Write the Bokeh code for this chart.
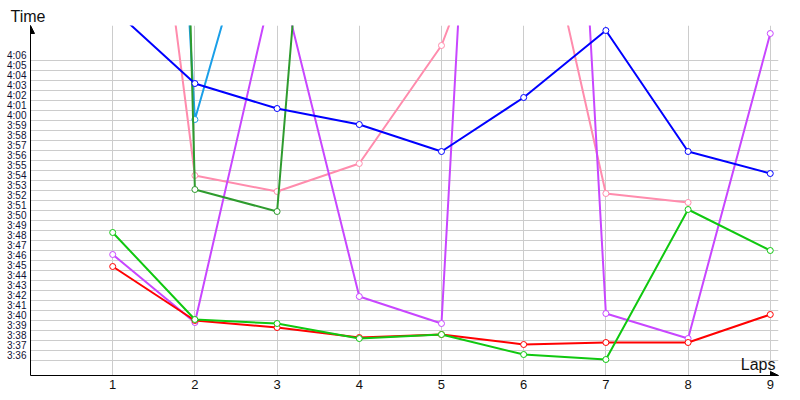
from bokeh.plotting import figure
from bokeh.models import FixedTicker, Arrow, NormalHead, Label, Range1d
from bokeh.embed import file_html
from bokeh.resources import INLINE

# ---- data (lap times in seconds) ----
laps = [1, 2, 3, 4, 5, 6, 7, 8, 9]
x_tick_labels = ["1", "2", "3", "4", "5", "6", "7", "8", "9"]

y_ticks = list(range(216, 247))  # 3:36 .. 4:06
y_tick_labels = [f"{t // 60}:{t % 60:02d}" for t in y_ticks]

pink = [298.7, 234.5, 232.9, 235.7, 247.5, 269.2, 232.7, 231.8]
purple = [226.6, 219.8, 255.5, 222.4, 219.7, 368.0, 220.7, 218.2, 248.7]
light_blue = [386.0, 240.1, 268.8]
dark_green = [546.0, 233.1, 230.9, 330.0]
blue = [251.2, 243.7, 241.2, 239.6, 236.9, 242.3, 249.0, 236.9, 234.7]
red = [225.4, 220.0, 219.3, 218.3, 218.6, 217.6, 217.8, 217.8, 220.6]
green = [228.8, 220.1, 219.7, 218.2, 218.6, 216.6, 216.1, 231.1, 227.0]

series = [
    (pink, "#FF8CAD"),
    (purple, "#C846FF"),
    (light_blue, "#1A9FE8"),
    (dark_green, "#2E9B2E"),
    (blue, "#0000FF"),
    (red, "#FF0000"),
    (green, "#10C810"),
]

x0, x1 = 0, 9.1
y0, y1 = 214.5, 249.5

p = figure(width=800, height=400, output_backend="svg", toolbar_location=None,
           x_range=Range1d(x0, x1), y_range=Range1d(y0, y1),
           min_border_left=30, min_border_right=22, min_border_top=25,
           min_border_bottom=25, title="Time")
p.outline_line_color = None
p.background_fill_color = "white"
p.border_fill_color = "white"

p.title.align = "left"
p.title.offset = -20
p.title.standoff = 2
p.title.text_font = "Liberation Sans"
p.title.text_font_size = "16px"
p.title.text_font_style = "normal"
p.title.text_color = "#111111"

# x axis
p.xaxis.ticker = FixedTicker(ticks=laps)
p.xaxis.major_label_overrides = {l: t for l, t in zip(laps, x_tick_labels)}
p.xaxis.major_tick_line_color = None
p.xaxis.major_tick_out = 0
p.xaxis.minor_tick_line_color = None
p.xaxis.axis_line_color = "black"
p.xaxis.major_label_standoff = 4
p.xaxis.major_label_text_font = "Liberation Sans"
p.xaxis.major_label_text_font_size = "13px"
p.xaxis.major_label_text_color = "#111111"

# y axis (labels sit half a second above their grid line)
p.yaxis.ticker = FixedTicker(ticks=[t + 0.5 for t in y_ticks])
p.yaxis.major_label_overrides = {t + 0.5: s for t, s in zip(y_ticks, y_tick_labels)}
p.yaxis.major_tick_line_color = None
p.yaxis.major_tick_out = 0
p.yaxis.minor_tick_line_color = None
p.yaxis.axis_line_color = "black"
p.yaxis.major_label_standoff = 4
p.yaxis.major_label_text_font = "Liberation Sans"
p.yaxis.major_label_text_font_size = "10px"
p.yaxis.major_label_text_color = "#111133"

# grids
p.xgrid.ticker = FixedTicker(ticks=laps)
p.ygrid.ticker = FixedTicker(ticks=y_ticks)
p.grid.grid_line_color = "#CCCCCC"
p.grid.grid_line_width = 1

for vals, col in series:
    xs = laps[:len(vals)]
    p.line(xs, vals, line_width=2, color=col, line_join="round")
    p.scatter(xs, vals, marker="circle", size=6, fill_color="white",
              line_color=col, line_width=1)

# axis arrows
p.add_layout(Arrow(end=NormalHead(size=8, fill_color="black", line_color="black"),
                   x_start=x0, y_start=y1 - 1.0, x_end=x0, y_end=y1,
                   line_color="black", line_width=1))
p.add_layout(Arrow(end=NormalHead(size=8, fill_color="black", line_color="black"),
                   x_start=x1 - 0.2, y_start=y0, x_end=x1, y_end=y0,
                   line_color="black", line_width=1))

p.add_layout(Label(x=9.063, y=215.6, text="Laps", text_align="right",
                   text_baseline="alphabetic", text_font="Liberation Sans",
                   text_font_size="16px", text_color="#111111"))

open("out.html", "w").write(file_html(p, INLINE))
